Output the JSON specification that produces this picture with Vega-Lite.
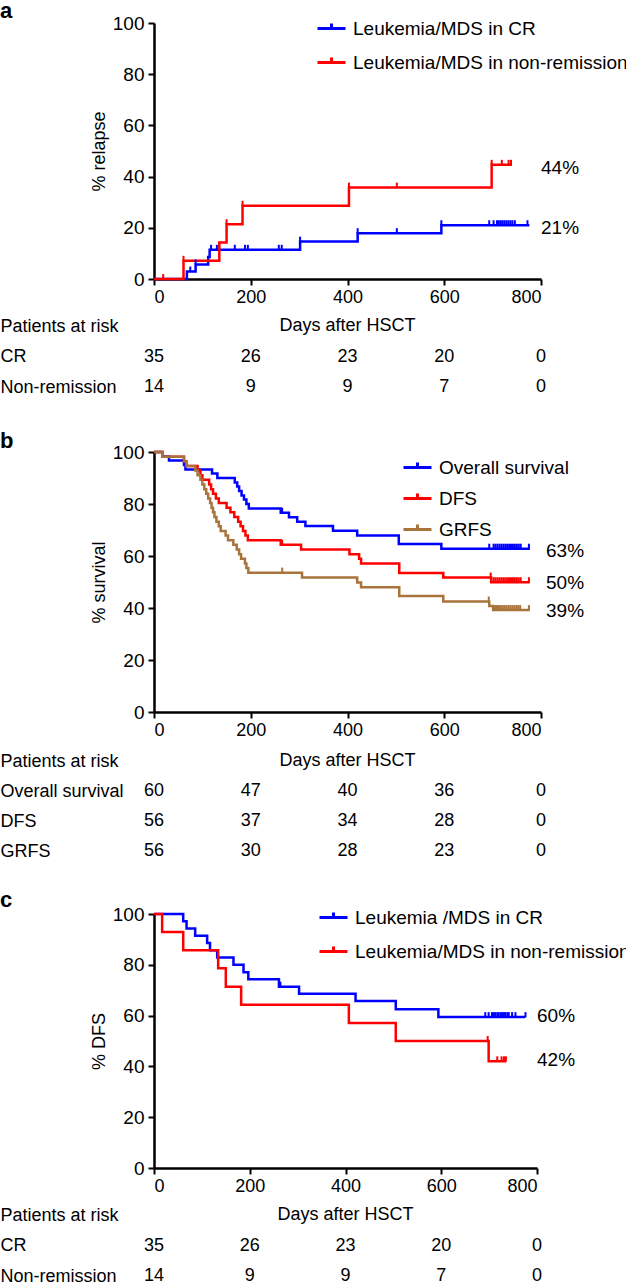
{
  "$schema": "https://vega.github.io/schema/vega-lite/v6.json",
  "padding": 0,
  "background": "white",
  "spacing": 23,
  "resolve": {"scale": {"color": "independent", "x": "independent", "y": "independent"}, "legend": {"color": "independent"}},
  "config": {
    "view": {"stroke": null},
    "font": "Liberation Sans",
    "axis": {"labelFontSize": 18, "titleFontSize": 18, "titleFontWeight": "normal", "labelColor": "black", "titleColor": "black", "domainColor": "black", "tickColor": "black", "grid": false, "domainWidth": 2.5, "tickWidth": 2, "tickSize": 6, "labelFont": "Liberation Sans", "titleFont": "Liberation Sans"},
    "legend": {"symbolType": "M-1,0H1M0,0V-0.35", "symbolSize": 784, "symbolStrokeWidth": 3, "labelFontSize": 19, "labelLimit": 400, "padding": 0, "labelOffset": 6, "labelFont": "Liberation Sans", "labelColor": "black", "symbolOpacity": 1},
    "text": {"font": "Liberation Sans", "fontSize": 18, "color": "black"},
    "title": {"font": "Liberation Sans", "fontSize": 22, "fontWeight": "bold", "anchor": "start", "frame": "group", "color": "black"}
  },
  "datasets": {
    "a_steps": [
      {"s": "Leukemia/MDS in CR", "t": 0, "v": 0}, {"s": "Leukemia/MDS in CR", "t": 68, "v": 2.9}, {"s": "Leukemia/MDS in CR", "t": 86, "v": 5.7}, {"s": "Leukemia/MDS in CR", "t": 112, "v": 8.6}, {"s": "Leukemia/MDS in CR", "t": 115, "v": 11.4}, {"s": "Leukemia/MDS in CR", "t": 302, "v": 14.6}, {"s": "Leukemia/MDS in CR", "t": 421, "v": 17.9}, {"s": "Leukemia/MDS in CR", "t": 594, "v": 21.0}, {"s": "Leukemia/MDS in CR", "t": 776, "v": 21.0},
      {"s": "Leukemia/MDS in non-remission", "t": 0, "v": 0}, {"s": "Leukemia/MDS in non-remission", "t": 61, "v": 7.1}, {"s": "Leukemia/MDS in non-remission", "t": 135, "v": 14.3}, {"s": "Leukemia/MDS in non-remission", "t": 150, "v": 21.4}, {"s": "Leukemia/MDS in non-remission", "t": 183, "v": 28.6}, {"s": "Leukemia/MDS in non-remission", "t": 403, "v": 35.7}, {"s": "Leukemia/MDS in non-remission", "t": 698, "v": 44.6}, {"s": "Leukemia/MDS in non-remission", "t": 740, "v": 44.6}
    ],
    "a_cens": [
      {"s": "Leukemia/MDS in CR", "t": 75, "v": 2.9}, {"s": "Leukemia/MDS in CR", "t": 86, "v": 5.7}, {"s": "Leukemia/MDS in CR", "t": 118, "v": 11.4}, {"s": "Leukemia/MDS in CR", "t": 130, "v": 11.4}, {"s": "Leukemia/MDS in CR", "t": 167, "v": 11.4}, {"s": "Leukemia/MDS in CR", "t": 188, "v": 11.4}, {"s": "Leukemia/MDS in CR", "t": 194, "v": 11.4}, {"s": "Leukemia/MDS in CR", "t": 258, "v": 11.4}, {"s": "Leukemia/MDS in CR", "t": 264, "v": 11.4}, {"s": "Leukemia/MDS in CR", "t": 302, "v": 14.6}, {"s": "Leukemia/MDS in CR", "t": 421, "v": 17.9}, {"s": "Leukemia/MDS in CR", "t": 502, "v": 17.9}, {"s": "Leukemia/MDS in CR", "t": 594, "v": 21.0}, {"s": "Leukemia/MDS in CR", "t": 693, "v": 21.0}, {"s": "Leukemia/MDS in CR", "t": 702, "v": 21.0}, {"s": "Leukemia/MDS in CR", "t": 709, "v": 21.0}, {"s": "Leukemia/MDS in CR", "t": 713, "v": 21.0}, {"s": "Leukemia/MDS in CR", "t": 717, "v": 21.0}, {"s": "Leukemia/MDS in CR", "t": 721, "v": 21.0}, {"s": "Leukemia/MDS in CR", "t": 725, "v": 21.0}, {"s": "Leukemia/MDS in CR", "t": 729, "v": 21.0}, {"s": "Leukemia/MDS in CR", "t": 733, "v": 21.0}, {"s": "Leukemia/MDS in CR", "t": 737, "v": 21.0}, {"s": "Leukemia/MDS in CR", "t": 741, "v": 21.0}, {"s": "Leukemia/MDS in CR", "t": 746, "v": 21.0}, {"s": "Leukemia/MDS in CR", "t": 772, "v": 21.0},
      {"s": "Leukemia/MDS in non-remission", "t": 19, "v": 0}, {"s": "Leukemia/MDS in non-remission", "t": 61, "v": 7.1}, {"s": "Leukemia/MDS in non-remission", "t": 150, "v": 21.4}, {"s": "Leukemia/MDS in non-remission", "t": 183, "v": 28.6}, {"s": "Leukemia/MDS in non-remission", "t": 403, "v": 35.7}, {"s": "Leukemia/MDS in non-remission", "t": 502, "v": 35.7}, {"s": "Leukemia/MDS in non-remission", "t": 698, "v": 44.6}, {"s": "Leukemia/MDS in non-remission", "t": 719, "v": 44.6}, {"s": "Leukemia/MDS in non-remission", "t": 733, "v": 44.6}, {"s": "Leukemia/MDS in non-remission", "t": 738, "v": 44.6}
    ],
    "a_pct": [{"label": "44%", "t": 800, "v": 43.5}, {"label": "21%", "t": 800, "v": 20}],
    "a_table": [
      {"row": "Patients at risk", "t": 400, "n": "Days after HSCT"},
      {"row": "CR", "t": 0, "n": "35"}, {"row": "CR", "t": 200, "n": "26"}, {"row": "CR", "t": 400, "n": "23"}, {"row": "CR", "t": 600, "n": "20"}, {"row": "CR", "t": 800, "n": "0"},
      {"row": "Non-remission", "t": 0, "n": "14"}, {"row": "Non-remission", "t": 200, "n": "9"}, {"row": "Non-remission", "t": 400, "n": "9"}, {"row": "Non-remission", "t": 600, "n": "7"}, {"row": "Non-remission", "t": 800, "n": "0"}
    ],
    "b_steps": [
      {"s": "Overall survival", "t": 0, "v": 100}, {"s": "Overall survival", "t": 17, "v": 98.3}, {"s": "Overall survival", "t": 31, "v": 96.7}, {"s": "Overall survival", "t": 62, "v": 95.0}, {"s": "Overall survival", "t": 65, "v": 93.3}, {"s": "Overall survival", "t": 120, "v": 91.7}, {"s": "Overall survival", "t": 131, "v": 90.0}, {"s": "Overall survival", "t": 167, "v": 88.3}, {"s": "Overall survival", "t": 172, "v": 86.7}, {"s": "Overall survival", "t": 176, "v": 85.0}, {"s": "Overall survival", "t": 181, "v": 83.3}, {"s": "Overall survival", "t": 186, "v": 81.7}, {"s": "Overall survival", "t": 191, "v": 80.0}, {"s": "Overall survival", "t": 196, "v": 78.3}, {"s": "Overall survival", "t": 262, "v": 76.6}, {"s": "Overall survival", "t": 279, "v": 74.9}, {"s": "Overall survival", "t": 296, "v": 73.2}, {"s": "Overall survival", "t": 313, "v": 71.5}, {"s": "Overall survival", "t": 370, "v": 69.7}, {"s": "Overall survival", "t": 420, "v": 67.9}, {"s": "Overall survival", "t": 506, "v": 64.6}, {"s": "Overall survival", "t": 594, "v": 62.8}, {"s": "Overall survival", "t": 777, "v": 62.8},
      {"s": "DFS", "t": 0, "v": 100}, {"s": "DFS", "t": 17, "v": 98.2}, {"s": "DFS", "t": 62, "v": 96.4}, {"s": "DFS", "t": 67, "v": 94.6}, {"s": "DFS", "t": 90, "v": 92.9}, {"s": "DFS", "t": 96, "v": 91.1}, {"s": "DFS", "t": 100, "v": 89.3}, {"s": "DFS", "t": 114, "v": 87.5}, {"s": "DFS", "t": 118, "v": 85.7}, {"s": "DFS", "t": 122, "v": 83.9}, {"s": "DFS", "t": 128, "v": 82.1}, {"s": "DFS", "t": 134, "v": 80.4}, {"s": "DFS", "t": 150, "v": 78.6}, {"s": "DFS", "t": 158, "v": 76.8}, {"s": "DFS", "t": 166, "v": 75.0}, {"s": "DFS", "t": 174, "v": 73.2}, {"s": "DFS", "t": 179, "v": 71.4}, {"s": "DFS", "t": 184, "v": 69.6}, {"s": "DFS", "t": 189, "v": 67.9}, {"s": "DFS", "t": 194, "v": 66.1}, {"s": "DFS", "t": 262, "v": 64.3}, {"s": "DFS", "t": 304, "v": 62.5}, {"s": "DFS", "t": 404, "v": 60.7}, {"s": "DFS", "t": 424, "v": 58.9}, {"s": "DFS", "t": 428, "v": 57.1}, {"s": "DFS", "t": 507, "v": 53.5}, {"s": "DFS", "t": 598, "v": 51.7}, {"s": "DFS", "t": 697, "v": 49.9}, {"s": "DFS", "t": 777, "v": 49.9},
      {"s": "GRFS", "t": 0, "v": 100}, {"s": "GRFS", "t": 17, "v": 98.2}, {"s": "GRFS", "t": 62, "v": 96.4}, {"s": "GRFS", "t": 67, "v": 94.6}, {"s": "GRFS", "t": 85, "v": 92.9}, {"s": "GRFS", "t": 90, "v": 91.1}, {"s": "GRFS", "t": 96, "v": 89.3}, {"s": "GRFS", "t": 100, "v": 87.5}, {"s": "GRFS", "t": 104, "v": 85.7}, {"s": "GRFS", "t": 108, "v": 83.9}, {"s": "GRFS", "t": 112, "v": 82.1}, {"s": "GRFS", "t": 116, "v": 80.4}, {"s": "GRFS", "t": 119, "v": 78.6}, {"s": "GRFS", "t": 122, "v": 76.8}, {"s": "GRFS", "t": 125, "v": 75.0}, {"s": "GRFS", "t": 129, "v": 73.2}, {"s": "GRFS", "t": 134, "v": 71.4}, {"s": "GRFS", "t": 138, "v": 69.6}, {"s": "GRFS", "t": 148, "v": 67.9}, {"s": "GRFS", "t": 153, "v": 66.1}, {"s": "GRFS", "t": 164, "v": 64.3}, {"s": "GRFS", "t": 171, "v": 62.5}, {"s": "GRFS", "t": 176, "v": 60.7}, {"s": "GRFS", "t": 180, "v": 58.9}, {"s": "GRFS", "t": 188, "v": 57.1}, {"s": "GRFS", "t": 191, "v": 55.4}, {"s": "GRFS", "t": 195, "v": 53.6}, {"s": "GRFS", "t": 306, "v": 51.7}, {"s": "GRFS", "t": 420, "v": 49.8}, {"s": "GRFS", "t": 428, "v": 48.0}, {"s": "GRFS", "t": 507, "v": 44.6}, {"s": "GRFS", "t": 598, "v": 42.5}, {"s": "GRFS", "t": 693, "v": 40.8}, {"s": "GRFS", "t": 701, "v": 39.2}, {"s": "GRFS", "t": 777, "v": 39.2}
    ],
    "b_cens": [
      {"s": "Overall survival", "t": 265, "v": 76.6}, {"s": "Overall survival", "t": 693, "v": 62.8}, {"s": "Overall survival", "t": 702, "v": 62.8}, {"s": "Overall survival", "t": 706, "v": 62.8}, {"s": "Overall survival", "t": 710, "v": 62.8}, {"s": "Overall survival", "t": 714, "v": 62.8}, {"s": "Overall survival", "t": 718, "v": 62.8}, {"s": "Overall survival", "t": 722, "v": 62.8}, {"s": "Overall survival", "t": 726, "v": 62.8}, {"s": "Overall survival", "t": 730, "v": 62.8}, {"s": "Overall survival", "t": 734, "v": 62.8}, {"s": "Overall survival", "t": 738, "v": 62.8}, {"s": "Overall survival", "t": 742, "v": 62.8}, {"s": "Overall survival", "t": 746, "v": 62.8}, {"s": "Overall survival", "t": 750, "v": 62.8}, {"s": "Overall survival", "t": 754, "v": 62.8}, {"s": "Overall survival", "t": 758, "v": 62.8}, {"s": "Overall survival", "t": 775, "v": 62.8},
      {"s": "DFS", "t": 265, "v": 64.3}, {"s": "DFS", "t": 696, "v": 51.7}, {"s": "DFS", "t": 702, "v": 49.9}, {"s": "DFS", "t": 706, "v": 49.9}, {"s": "DFS", "t": 710, "v": 49.9}, {"s": "DFS", "t": 714, "v": 49.9}, {"s": "DFS", "t": 718, "v": 49.9}, {"s": "DFS", "t": 722, "v": 49.9}, {"s": "DFS", "t": 726, "v": 49.9}, {"s": "DFS", "t": 730, "v": 49.9}, {"s": "DFS", "t": 734, "v": 49.9}, {"s": "DFS", "t": 738, "v": 49.9}, {"s": "DFS", "t": 742, "v": 49.9}, {"s": "DFS", "t": 746, "v": 49.9}, {"s": "DFS", "t": 750, "v": 49.9}, {"s": "DFS", "t": 754, "v": 49.9}, {"s": "DFS", "t": 758, "v": 49.9}, {"s": "DFS", "t": 775, "v": 49.9},
      {"s": "GRFS", "t": 265, "v": 53.6}, {"s": "GRFS", "t": 692, "v": 42.5}, {"s": "GRFS", "t": 705, "v": 39.2}, {"s": "GRFS", "t": 709, "v": 39.2}, {"s": "GRFS", "t": 713, "v": 39.2}, {"s": "GRFS", "t": 717, "v": 39.2}, {"s": "GRFS", "t": 721, "v": 39.2}, {"s": "GRFS", "t": 725, "v": 39.2}, {"s": "GRFS", "t": 729, "v": 39.2}, {"s": "GRFS", "t": 733, "v": 39.2}, {"s": "GRFS", "t": 737, "v": 39.2}, {"s": "GRFS", "t": 741, "v": 39.2}, {"s": "GRFS", "t": 745, "v": 39.2}, {"s": "GRFS", "t": 749, "v": 39.2}, {"s": "GRFS", "t": 753, "v": 39.2}, {"s": "GRFS", "t": 757, "v": 39.2}, {"s": "GRFS", "t": 775, "v": 39.2}
    ],
    "b_pct": [{"label": "63%", "t": 800, "v": 62}, {"label": "50%", "t": 800, "v": 49.5}, {"label": "39%", "t": 800, "v": 39}],
    "b_table": [
      {"row": "Patients at risk", "t": 400, "n": "Days after HSCT"},
      {"row": "Overall survival", "t": 0, "n": "60"}, {"row": "Overall survival", "t": 200, "n": "47"}, {"row": "Overall survival", "t": 400, "n": "40"}, {"row": "Overall survival", "t": 600, "n": "36"}, {"row": "Overall survival", "t": 800, "n": "0"},
      {"row": "DFS", "t": 0, "n": "56"}, {"row": "DFS", "t": 200, "n": "37"}, {"row": "DFS", "t": 400, "n": "34"}, {"row": "DFS", "t": 600, "n": "28"}, {"row": "DFS", "t": 800, "n": "0"},
      {"row": "GRFS", "t": 0, "n": "56"}, {"row": "GRFS", "t": 200, "n": "30"}, {"row": "GRFS", "t": 400, "n": "28"}, {"row": "GRFS", "t": 600, "n": "23"}, {"row": "GRFS", "t": 800, "n": "0"}
    ],
    "c_steps": [
      {"s": "Leukemia /MDS in CR", "t": 0, "v": 100}, {"s": "Leukemia /MDS in CR", "t": 61, "v": 97.1}, {"s": "Leukemia /MDS in CR", "t": 68, "v": 94.3}, {"s": "Leukemia /MDS in CR", "t": 86, "v": 91.4}, {"s": "Leukemia /MDS in CR", "t": 111, "v": 88.6}, {"s": "Leukemia /MDS in CR", "t": 117, "v": 85.7}, {"s": "Leukemia /MDS in CR", "t": 132, "v": 82.9}, {"s": "Leukemia /MDS in CR", "t": 166, "v": 80.0}, {"s": "Leukemia /MDS in CR", "t": 187, "v": 77.1}, {"s": "Leukemia /MDS in CR", "t": 197, "v": 74.3}, {"s": "Leukemia /MDS in CR", "t": 261, "v": 71.4}, {"s": "Leukemia /MDS in CR", "t": 303, "v": 68.6}, {"s": "Leukemia /MDS in CR", "t": 421, "v": 65.7}, {"s": "Leukemia /MDS in CR", "t": 505, "v": 62.5}, {"s": "Leukemia /MDS in CR", "t": 594, "v": 59.4}, {"s": "Leukemia /MDS in CR", "t": 776, "v": 59.4},
      {"s": "Leukemia/MDS in non-remission", "t": 0, "v": 100}, {"s": "Leukemia/MDS in non-remission", "t": 17, "v": 92.9}, {"s": "Leukemia/MDS in non-remission", "t": 61, "v": 85.7}, {"s": "Leukemia/MDS in non-remission", "t": 134, "v": 78.6}, {"s": "Leukemia/MDS in non-remission", "t": 150, "v": 71.4}, {"s": "Leukemia/MDS in non-remission", "t": 182, "v": 64.3}, {"s": "Leukemia/MDS in non-remission", "t": 407, "v": 57.1}, {"s": "Leukemia/MDS in non-remission", "t": 505, "v": 50.0}, {"s": "Leukemia/MDS in non-remission", "t": 699, "v": 42.0}, {"s": "Leukemia/MDS in non-remission", "t": 736, "v": 42.0}
    ],
    "c_cens": [
      {"s": "Leukemia /MDS in CR", "t": 264, "v": 71.4}, {"s": "Leukemia /MDS in CR", "t": 692, "v": 59.4}, {"s": "Leukemia /MDS in CR", "t": 699, "v": 59.4}, {"s": "Leukemia /MDS in CR", "t": 706, "v": 59.4}, {"s": "Leukemia /MDS in CR", "t": 710, "v": 59.4}, {"s": "Leukemia /MDS in CR", "t": 713, "v": 59.4}, {"s": "Leukemia /MDS in CR", "t": 717, "v": 59.4}, {"s": "Leukemia /MDS in CR", "t": 720, "v": 59.4}, {"s": "Leukemia /MDS in CR", "t": 724, "v": 59.4}, {"s": "Leukemia /MDS in CR", "t": 727, "v": 59.4}, {"s": "Leukemia /MDS in CR", "t": 731, "v": 59.4}, {"s": "Leukemia /MDS in CR", "t": 734, "v": 59.4}, {"s": "Leukemia /MDS in CR", "t": 738, "v": 59.4}, {"s": "Leukemia /MDS in CR", "t": 741, "v": 59.4}, {"s": "Leukemia /MDS in CR", "t": 748, "v": 59.4}, {"s": "Leukemia /MDS in CR", "t": 755, "v": 59.4}, {"s": "Leukemia /MDS in CR", "t": 776, "v": 59.4},
      {"s": "Leukemia/MDS in non-remission", "t": 697, "v": 50.0}, {"s": "Leukemia/MDS in non-remission", "t": 717, "v": 42.0}, {"s": "Leukemia/MDS in non-remission", "t": 726, "v": 42.0}, {"s": "Leukemia/MDS in non-remission", "t": 731, "v": 42.0}, {"s": "Leukemia/MDS in non-remission", "t": 735, "v": 42.0}
    ],
    "c_pct": [{"label": "60%", "t": 800, "v": 60}, {"label": "42%", "t": 800, "v": 42.5}]
  },
  "vconcat": [
    {
      "spacing": 27,
      "resolve": {"scale": {"color": "independent", "x": "independent", "y": "independent"}, "legend": {"color": "independent"}},
      "vconcat": [
        {
          "spacing": 5,
          "resolve": {"scale": {"color": "independent"}, "legend": {"color": "independent"}},
          "vconcat": [
            {
              "title": {"text": "a", "dx": -154, "offset": -10},
              "width": 387, "height": 256,
              "encoding": {
                "x": {"field": "t", "type": "quantitative", "scale": {"domain": [0, 800], "nice": false}, "axis": {"values": [0, 200, 400, 600, 800], "title": null, "labelPadding": 3}},
                "y": {"field": "v", "type": "quantitative", "scale": {"domain": [0, 100], "nice": false}, "axis": {"values": [0, 20, 40, 60, 80, 100], "title": "% relapse", "labelPadding": 4, "titlePadding": 4, "labelFontSize": 19}}
              },
              "layer": [
                {"data": {"name": "a_steps"}, "mark": {"type": "line", "interpolate": "step-after", "strokeWidth": 2.5},
                 "encoding": {"color": {"field": "s", "type": "nominal", "scale": {"domain": ["Leukemia/MDS in CR", "Leukemia/MDS in non-remission"], "range": ["#0000ff", "#ff0000"]},
                   "legend": {"orient": "none", "legendX": 162, "legendY": -10, "title": null, "rowPadding": 8}}}},
                {"data": {"name": "a_cens"}, "mark": {"type": "point", "shape": "M0,0V-1", "size": 100, "filled": false, "strokeWidth": 2, "opacity": 1},
                 "encoding": {"color": {"field": "s", "type": "nominal", "legend": null}}},
                {"data": {"name": "a_pct"}, "mark": {"type": "text", "align": "left", "baseline": "middle", "dx": 0, "fontSize": 19}, "encoding": {"text": {"field": "label"}}}
              ]
            },
            {
              "width": 387, "height": 91.5,
              "data": {"name": "a_table"},
              "mark": {"type": "text", "baseline": "middle", "align": "center"},
              "encoding": {
                "x": {"field": "t", "type": "quantitative", "scale": {"domain": [0, 800], "nice": false}, "axis": null},
                "y": {"field": "row", "type": "nominal", "scale": {"type": "point", "padding": 0.5, "domain": ["Patients at risk", "CR", "Non-remission"]}, "axis": {"title": null, "domain": false, "ticks": false, "tickSize": 0, "labelAlign": "left", "labelPadding": 154, "labelLimit": 400}},
                "text": {"field": "n"}
              }
            }
          ]
        },
        {
          "spacing": 7,
          "resolve": {"scale": {"color": "independent"}, "legend": {"color": "independent"}},
          "vconcat": [
            {
              "title": {"text": "b", "dx": -154, "offset": -10},
              "width": 387, "height": 260,
              "encoding": {
                "x": {"field": "t", "type": "quantitative", "scale": {"domain": [0, 800], "nice": false}, "axis": {"values": [0, 200, 400, 600, 800], "title": null, "labelPadding": 3}},
                "y": {"field": "v", "type": "quantitative", "scale": {"domain": [0, 100], "nice": false}, "axis": {"values": [0, 20, 40, 60, 80, 100], "title": "% survival", "labelPadding": 4, "titlePadding": 4, "labelFontSize": 19}}
              },
              "layer": [
                {"data": {"name": "b_steps"}, "mark": {"type": "line", "interpolate": "step-after", "strokeWidth": 2.5},
                 "encoding": {"color": {"field": "s", "type": "nominal", "scale": {"domain": ["Overall survival", "DFS", "GRFS"], "range": ["#0000ff", "#ff0000", "#a8743c"]},
                   "legend": {"orient": "none", "legendX": 248, "legendY": 0, "title": null, "rowPadding": 5}}}},
                {"data": {"name": "b_cens"}, "mark": {"type": "point", "shape": "M0,0V-1", "size": 100, "filled": false, "strokeWidth": 2, "opacity": 1},
                 "encoding": {"color": {"field": "s", "type": "nominal", "legend": null}}},
                {"data": {"name": "b_pct"}, "mark": {"type": "text", "align": "left", "baseline": "middle", "dx": 5, "fontSize": 19}, "encoding": {"text": {"field": "label"}}}
              ]
            },
            {
              "width": 387, "height": 120,
              "data": {"name": "b_table"},
              "mark": {"type": "text", "baseline": "middle", "align": "center"},
              "encoding": {
                "x": {"field": "t", "type": "quantitative", "scale": {"domain": [0, 800], "nice": false}, "axis": null},
                "y": {"field": "row", "type": "nominal", "scale": {"type": "point", "padding": 0.5, "domain": ["Patients at risk", "Overall survival", "DFS", "GRFS"]}, "axis": {"title": null, "domain": false, "ticks": false, "tickSize": 0, "labelAlign": "left", "labelPadding": 154, "labelLimit": 400}},
                "text": {"field": "n"}
              }
            }
          ]
        }
      ]
    },
    {
      "spacing": 5,
      "resolve": {"scale": {"color": "independent"}, "legend": {"color": "independent"}},
      "vconcat": [
        {
          "title": {"text": "c", "dx": -154, "offset": -10},
          "width": 383, "height": 254,
          "encoding": {
            "x": {"field": "t", "type": "quantitative", "scale": {"domain": [0, 800], "nice": false}, "axis": {"values": [0, 200, 400, 600, 800], "title": null, "labelPadding": 3}},
            "y": {"field": "v", "type": "quantitative", "scale": {"domain": [0, 100], "nice": false}, "axis": {"values": [0, 20, 40, 60, 80, 100], "title": "% DFS", "labelPadding": 4, "titlePadding": 4, "labelFontSize": 19}}
          },
          "layer": [
            {"data": {"name": "c_steps"}, "mark": {"type": "line", "interpolate": "step-after", "strokeWidth": 2.5},
             "encoding": {"color": {"field": "s", "type": "nominal", "scale": {"domain": ["Leukemia /MDS in CR", "Leukemia/MDS in non-remission"], "range": ["#0000ff", "#ff0000"]},
               "legend": {"orient": "none", "legendX": 164, "legendY": -12, "title": null, "rowPadding": 8}}}},
            {"data": {"name": "c_cens"}, "mark": {"type": "point", "shape": "M0,0V-1", "size": 100, "filled": false, "strokeWidth": 2, "opacity": 1},
             "encoding": {"color": {"field": "s", "type": "nominal", "legend": null}}},
            {"data": {"name": "c_pct"}, "mark": {"type": "text", "align": "left", "baseline": "middle", "dx": 0, "fontSize": 19}, "encoding": {"text": {"field": "label"}}}
          ]
        },
        {
          "width": 383, "height": 91.5,
          "data": {"name": "a_table"},
          "mark": {"type": "text", "baseline": "middle", "align": "center"},
          "encoding": {
            "x": {"field": "t", "type": "quantitative", "scale": {"domain": [0, 800], "nice": false}, "axis": null},
            "y": {"field": "row", "type": "nominal", "scale": {"type": "point", "padding": 0.5, "domain": ["Patients at risk", "CR", "Non-remission"]}, "axis": {"title": null, "domain": false, "ticks": false, "tickSize": 0, "labelAlign": "left", "labelPadding": 154, "labelLimit": 400}},
            "text": {"field": "n"}
          }
        }
      ]
    }
  ]
}
